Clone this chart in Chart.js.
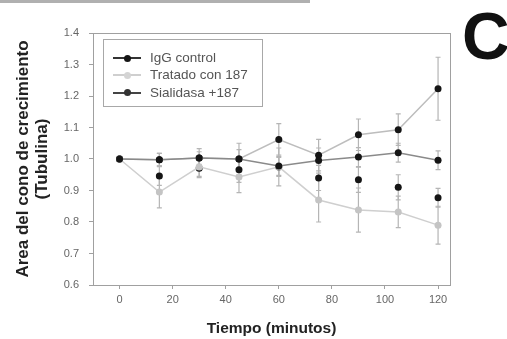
<!DOCTYPE html>
<html>
<head>
<meta charset="utf-8">
<script src="https://cdn.jsdelivr.net/npm/chart.js@4/dist/chart.umd.min.js"></script>
<style>
  html, body { margin:0; padding:0; background:#fff; }
  #wrap { position:relative; width:507px; height:339px; overflow:hidden; font-family:"Liberation Sans", Arial, sans-serif; }
  #c { position:absolute; left:0; top:0; }
  #topbar { position:absolute; left:0; top:0; width:310px; height:3px; background:#b0b0b0; }
  #letter { position:absolute; left:462px; top:3px; font-size:66px; font-weight:bold; color:#111; line-height:66px; }
  #legend { position:absolute; left:103px; top:39px; width:158px; height:66px; border:1px solid #a8a8a8; }
  .row { position:absolute; left:0; height:16px; width:157px; }
  .sym { position:absolute; left:9px; top:7px; width:28px; height:2px; }
  .dot { position:absolute; left:20px; top:4.5px; width:7px; height:7px; border-radius:50%; }
  .txt { position:absolute; left:46px; top:0px; font-size:13.5px; color:#555; white-space:nowrap; line-height:16px; }
</style>
</head>
<body>
<div id="wrap">
  <canvas id="c" width="507" height="339"></canvas>
  <div id="topbar"></div>
  <div id="letter">C</div>
  <div id="legend"></div>
</div>
<script>
// ---- data ----
const tiempos = [0, 15, 30, 45, 60, 75, 90, 105, 120];
const xTicks = [0, 20, 40, 60, 80, 100, 120];
const yTicks = [0.6, 0.7, 0.8, 0.9, 1.0, 1.1, 1.2, 1.3, 1.4];

const nombres = ["IgG control", "Tratado con 187", "Sialidasa +187", "Sialidasa"];
const enLeyenda = [true, true, true, false];

const iggControl   = [1.0, 0.998, 1.003, 1.0, 0.978, 0.995, 1.006, 1.020, 0.996];
const iggErr       = [0, 0.02, 0.02, 0.03, 0.03, 0.04, 0.03, 0.03, 0.03];
const tratado187   = [1.0, 0.895, 0.975, 0.943, 0.975, 0.870, 0.838, 0.832, 0.790];
const tratadoErr   = [0, 0.05, 0.03, 0.05, 0.06, 0.07, 0.07, 0.05, 0.06];
const sialidasa187 = [1.0, 0.998, 1.003, 1.0, 1.062, 1.012, 1.077, 1.093, 1.223];
const sialidasaErr = [0, 0.02, 0.03, 0.05, 0.05, 0.05, 0.05, 0.05, 0.10];
const sialidasa    = [1.0, 0.946, 0.971, 0.966, 0.975, 0.940, 0.934, 0.910, 0.877];
const sialErr      = [0, 0.03, 0.03, 0.04, 0.03, 0.04, 0.04, 0.04, 0.03];

const series = [iggControl, tratado187, sialidasa187, sialidasa];
const errores = [iggErr, tratadoErr, sialidasaErr, sialErr];

// ---- styles ----
const lineColors = ["#8a8a8a", "#cfcfcf", "#bdbdbd", "rgba(0,0,0,0)"];
const dotColors  = ["#151515", "#c4c4c4", "#151515", "#151515"];
const legLine    = ["#333", "#cfcfcf", "#444"];
const legDot     = ["#151515", "#d4d4d4", "#333"];

const datasets = series.map((s, i) => ({
  label: nombres[i],
  data: tiempos.map((t, k) => ({ x: t, y: s[k] })),
  errs: errores[i],
  borderColor: lineColors[i],
  borderWidth: 1.5,
  showLine: i !== 3,
  pointRadius: 3.5,
  pointBackgroundColor: dotColors[i],
  pointBorderColor: dotColors[i],
  pointBorderWidth: 0,
  tension: 0
}));

const errorBars = {
  id: 'errorBars',
  beforeDatasetsDraw(chart) {
    const { ctx, scales: { x, y } } = chart;
    ctx.save();
    ctx.strokeStyle = '#b5b5b5';
    ctx.lineWidth = 1.2;
    chart.data.datasets.forEach(ds => {
      ds.data.forEach((p, k) => {
        const e = ds.errs[k];
        if (!e) return;
        const px = x.getPixelForValue(p.x);
        const y1 = y.getPixelForValue(p.y + e);
        const y2 = y.getPixelForValue(p.y - e);
        ctx.beginPath();
        ctx.moveTo(px, y1); ctx.lineTo(px, y2);
        ctx.moveTo(px - 2.5, y1); ctx.lineTo(px + 2.5, y1);
        ctx.moveTo(px - 2.5, y2); ctx.lineTo(px + 2.5, y2);
        ctx.stroke();
      });
    });
    ctx.restore();
  }
};

const frame = {
  id: 'frame',
  afterDraw(chart) {
    const { ctx, chartArea: a } = chart;
    ctx.save();
    ctx.strokeStyle = '#a0a0a0';
    ctx.lineWidth = 1;
    ctx.strokeRect(a.left + 0.5, a.top + 0.5, a.right - a.left, a.bottom - a.top);
    ctx.restore();
  }
};

new Chart(document.getElementById('c'), {
  type: 'line',
  data: { datasets },
  options: {
    responsive: false,
    animation: false,
    devicePixelRatio: 1,
    layout: { padding: { top: 33, right: 57, left: 0, bottom: 0 } },
    plugins: { legend: { display: false }, tooltip: { enabled: false } },
    scales: {
      x: {
        type: 'linear', min: -10, max: 124.5,
        afterBuildTicks: s => { s.ticks = xTicks.map(v => ({ value: v })); },
        afterFit: s => { s.height = 54; },
        grid: { drawOnChartArea: false, color: '#a0a0a0', tickLength: 4 },
        border: { color: '#a0a0a0' },
        ticks: { color: '#666', font: { size: 11, family: 'Liberation Sans' }, padding: 4, maxRotation: 0 },
        title: { display: true, text: 'Tiempo (minutos)', color: '#222',
                 font: { size: 15.5, weight: 'bold', family: 'Liberation Sans', lineHeight: 1.2 },
                 padding: { top: 0, bottom: 1 } }
      },
      y: {
        min: 0.6, max: 1.4,
        afterBuildTicks: s => { s.ticks = yTicks.map(v => ({ value: v })); },
        afterFit: s => { s.width = 93; },
        grid: { drawOnChartArea: false, color: '#a0a0a0', tickLength: 4 },
        border: { color: '#a0a0a0' },
        ticks: { color: '#666', font: { size: 11, family: 'Liberation Sans' }, padding: 10,
                 callback: v => Number(v).toFixed(1) },
        title: { display: true, text: ['Area del cono de crecimiento', '(Tubulina)'], color: '#222',
                 font: { size: 17, weight: 'bold', family: 'Liberation Sans', lineHeight: 1.12 },
                 padding: { top: 13.5, bottom: 0 } }
      }
    }
  },
  plugins: [errorBars, frame]
});

// HTML legend built from the same names/styles
const leg = document.getElementById('legend');
let row = 0;
nombres.forEach((n, i) => {
  if (!enLeyenda[i]) return;
  const r = document.createElement('div');
  r.className = 'row';
  r.style.top = (10 + row * 17.3) + 'px';
  r.innerHTML = '<div class="sym" style="background:' + legLine[i] + '"></div>' +
                '<div class="dot" style="background:' + legDot[i] + '"></div>' +
                '<div class="txt">' + n + '</div>';
  leg.appendChild(r);
  row++;
});
</script>
</body>
</html>
